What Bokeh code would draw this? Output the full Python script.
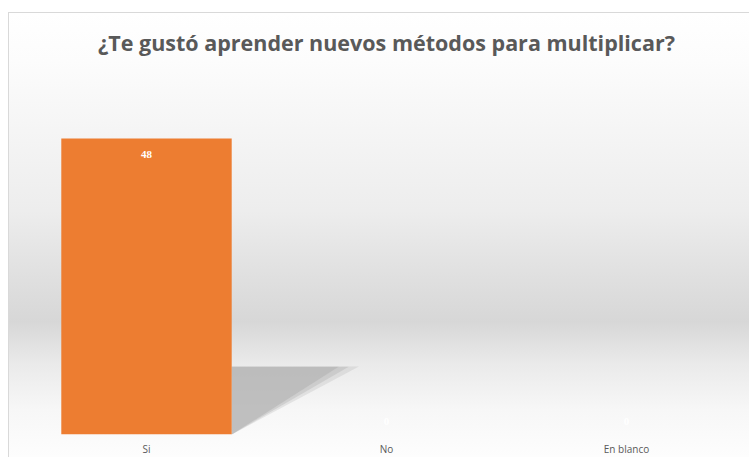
from bokeh.plotting import figure
from bokeh.models import ColumnDataSource, Range1d, FixedTicker, LabelSet
from bokeh.embed import file_html
from bokeh.resources import INLINE

# ---- data ----
categories = ["Si", "No", "En blanco"]
values = [48, 0, 0]
title_text = "¿Te gustó aprender nuevos métodos para multiplicar?"

bar_color = "#ED7D31"
bar_width = 0.71

x_pos = [i + 0.5 for i in range(len(categories))]
labels = [str(v) for v in values]
label_offsets = [-16 if v > 0 else 13 for v in values]

src = ColumnDataSource(dict(x=x_pos, top=values, label=labels, yoff=label_offsets))

p = figure(width=741, height=445, output_backend="svg", toolbar_location=None,
           x_range=Range1d(0, len(categories)), y_range=Range1d(0, 60),
           y_axis_location=None, min_border_left=17, min_border_right=4,
           min_border_top=51, min_border_bottom=22)

p.styles = {
    "margin-top": "12px",
    "margin-left": "8px",
    "border-left": "1px solid #d9d9d9",
    "border-top": "1px solid #d9d9d9",
    "background": "linear-gradient(to bottom, #ffffff 0%, #fcfcfc 10.8%, #ededed 44.5%, "
                  "#e3e3e3 55.7%, #d7d7d7 69.5%, #eaeaea 79%, #f7f7f7 89.4%, #fdfdfd 100%)",
}
p.background_fill_alpha = 0
p.border_fill_alpha = 0
p.outline_line_color = None
p.xgrid.visible = False
p.ygrid.visible = False

# title
p.title.text = title_text
p.title.align = "center"
p.title.vertical_align = "top"
p.title.padding = 0
p.title.text_font = "Open Sans"
p.title.text_font_size = "21.5px"
p.title.text_font_style = "bold"
p.title.text_color = "#595959"
p.title.standoff = 12

# shadow behind the bar (derived from bar value)
for i, v in enumerate(values):
    if v <= 0:
        continue
    right = x_pos[i] + bar_width / 2
    h = v * 0.23
    for a, s in [(0.25, 1.0), (0.35, 0.92), (0.5, 0.84)]:
        p.patch([right, right, right + 0.53 * s, right],
                [0, h * (0.96 + 0.04 * s), h * (0.96 + 0.04 * s), 0],
                fill_color="#adadad", fill_alpha=a, line_color=None)

p.vbar(x="x", top="top", width=bar_width, source=src, fill_color=bar_color,
       line_color=None)

lbl = LabelSet(x="x", y="top", text="label", source=src, y_offset="yoff",
               text_align="center", text_baseline="middle", text_color="white",
               text_font="Open Sans", text_font_size="11px", text_font_style="bold")
p.add_layout(lbl)

ax = p.xaxis[0]
ax.ticker = FixedTicker(ticks=x_pos)
ax.major_label_overrides = {x: c for x, c in zip(x_pos, categories)}
ax.axis_line_color = None
ax.major_tick_line_color = None
ax.minor_tick_line_color = None
ax.major_label_text_font = "Open Sans"
ax.major_label_text_font_size = "10px"
ax.major_label_text_color = "#595959"
ax.major_label_standoff = 1

open("out.html", "w").write(file_html(p, INLINE))
